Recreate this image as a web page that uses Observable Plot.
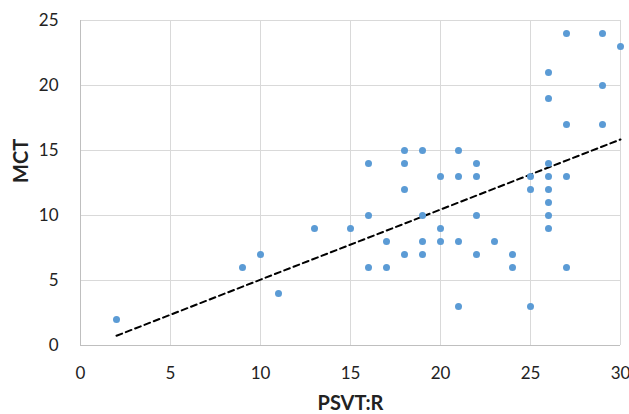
<!DOCTYPE html>
<html>
<head>
<meta charset="utf-8">
<script src="https://cdn.jsdelivr.net/npm/d3@7"></script>
<script src="https://cdn.jsdelivr.net/npm/@observablehq/plot@0.6"></script>
<style>
  html, body { margin: 0; padding: 0; background: #fff; }
</style>
</head>
<body>
<div id="chart"></div>
<script>
const psvt = [2, 9, 10, 11, 13, 15, 16, 16, 16, 17, 17, 18, 18, 18, 18, 19, 19, 19, 19, 20, 20, 20, 21, 21, 21, 21, 22, 22, 22, 22, 23, 24, 24, 25, 25, 25, 26, 26, 26, 26, 26, 26, 26, 26, 27, 27, 27, 27, 29, 29, 29, 30];
const mct  = [2, 6, 7, 4, 9, 9, 14, 10, 6, 8, 6, 15, 14, 12, 7, 15, 10, 8, 7, 13, 9, 8, 15, 13, 8, 3, 14, 13, 10, 7, 8, 7, 6, 13, 12, 3, 21, 19, 14, 13, 12, 11, 10, 9, 24, 17, 13, 6, 24, 20, 17, 23];
const trendX = [2, 30];
const trendY = [0.75, 15.85];
const xTicks = [0, 5, 10, 15, 20, 25, 30];
const yTicks = [0, 5, 10, 15, 20, 25];
const xTitle = "PSVT:R";
const yTitle = "MCT";

const points = psvt.map((x, i) => ({x, y: mct[i]}));
const trend = trendX.map((x, i) => ({x, y: trendY[i]}));

const chart = Plot.plot({
  width: 629,
  height: 414,
  marginLeft: 80,
  marginRight: 9,
  marginTop: 20,
  marginBottom: 69,
  style: {fontFamily: "Lato, sans-serif", fontSize: "17px", color: "#222", background: "#fff"},
  x: {domain: [0, 30]},
  y: {domain: [0, 25]},
  marks: [
    Plot.gridX(xTicks, {stroke: "#d9d9d9", strokeOpacity: 1}),
    Plot.gridY(yTicks, {stroke: "#d9d9d9", strokeOpacity: 1}),
    Plot.ruleX([0], {stroke: "#bfbfbf"}),
    Plot.ruleY([0], {stroke: "#bfbfbf"}),
    Plot.line(trend, {x: "x", y: "y", stroke: "#000", strokeWidth: 2, strokeDasharray: "6,4"}),
    Plot.dot(points, {x: "x", y: "y", r: 3.5, fill: "#5B9BD5"}),
    Plot.axisX(xTicks, {tickSize: 0, tickPadding: 21, label: null, fontSize: 17, fill: "#222"}),
    Plot.axisY(yTicks, {tickSize: 0, tickPadding: 22, label: null, fontSize: 17, fill: "#222"}),
    Plot.text([xTitle], {frameAnchor: "bottom", dy: 58, text: d => d, fontWeight: "bold", fontSize: 20, fill: "#222", lineAnchor: "middle"}),
    Plot.text([yTitle], {frameAnchor: "left", dx: -59, rotate: -90, text: d => d, fontWeight: "bold", fontSize: 20, fill: "#222", lineAnchor: "middle"})
  ]
});
document.getElementById("chart").appendChild(chart);
</script>
</body>
</html>
